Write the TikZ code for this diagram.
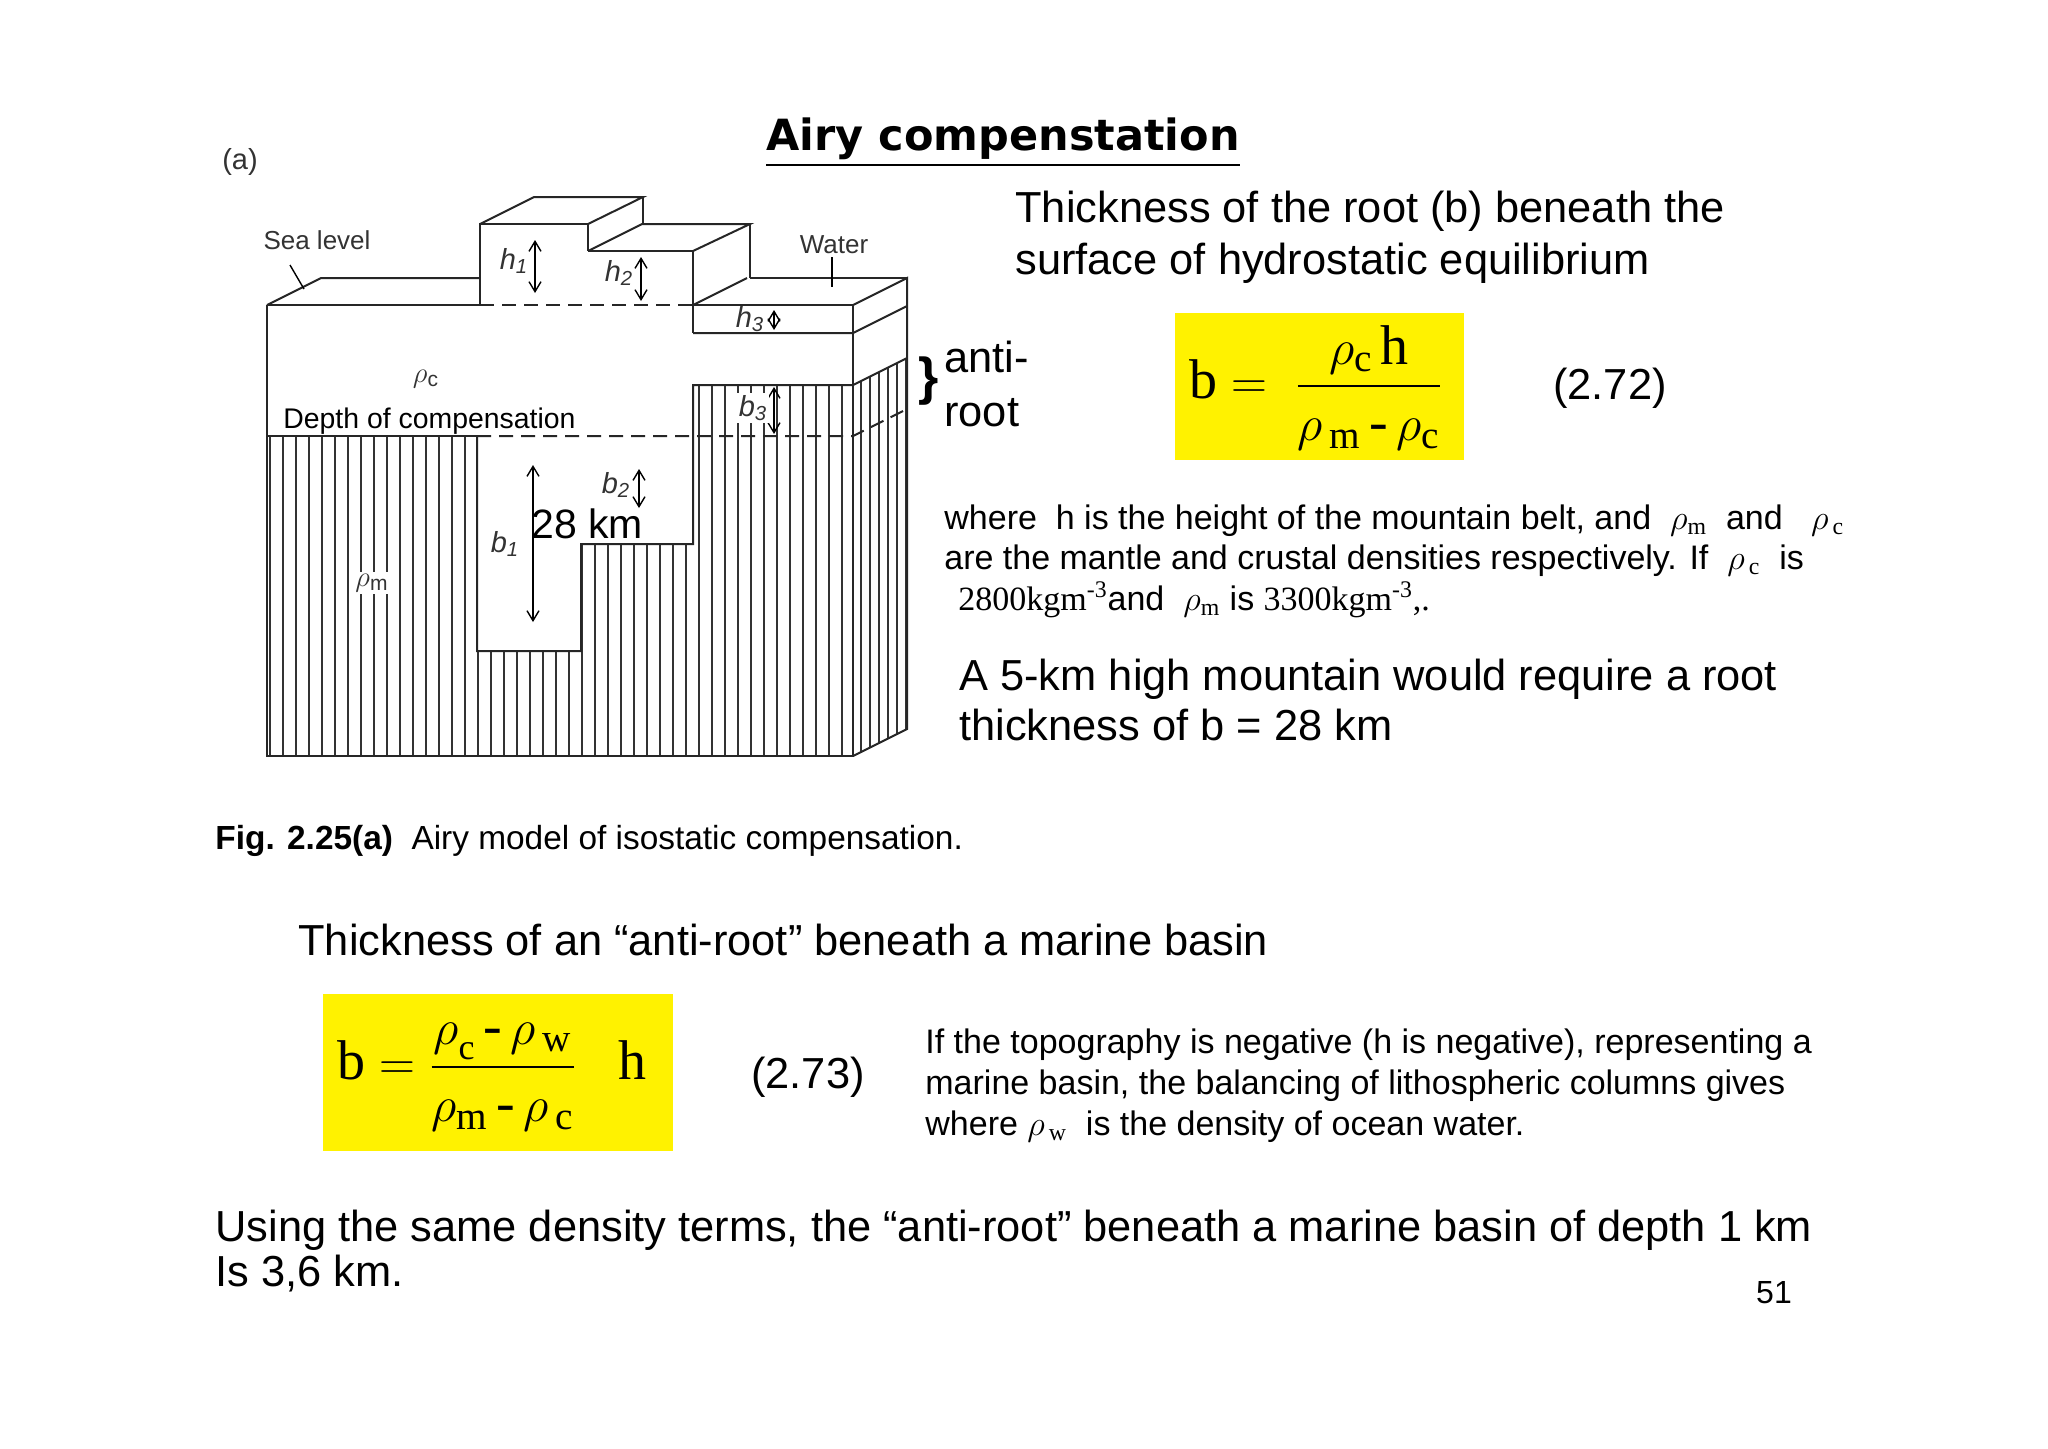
\documentclass[tikz,border=0pt]{standalone}
\usepackage{amsmath}
\usepackage{fontspec}
\setmainfont{Liberation Sans}
\newfontfamily\serf{Liberation Serif}
\newfontfamily\djb{DejaVu Sans}
\newcommand\srf[1]{\text{\serf #1}}
\usetikzlibrary{arrows.meta}
\begin{document}
\begin{tikzpicture}[x=0.5pt,y=-0.5pt,
  ln/.style={line width=1pt,black!85},
  hat/.style={line width=0.7pt,black!80},
  dsh/.style={line width=1pt,black!85,dash pattern=on 7pt off 4pt},
  dar/.style={line width=0.7pt,{Straight Barb[length=5pt,width=6pt]}-{Straight Barb[length=5pt,width=6pt]}},
  lab/.style={font=\fontsize{14.5}{15}\selectfont\itshape,text=black!80,inner sep=0pt},
  big/.style={font=\fontsize{21.7}{24}\selectfont,anchor=base west,inner sep=0pt},
  mid/.style={font=\fontsize{17}{19}\selectfont,anchor=base west,inner sep=0pt},
  ybox/.style={fill=yellow,draw=none}]
\useasboundingbox (0,0) rectangle (2048,1448);
\fill[white] (0,0) rectangle (2048,1448);
% ---------- hatching ----------
\begin{scope}
\clip (267,436)--(477,436)--(477,651)--(581,651)--(581,544)--(693,544)--(693,385)--(853,385)--(853,756)--(267,756)--cycle;
\foreach \x in {270,283,...,853} \draw[hat] (\x,380)--(\x,760);
\end{scope}
\begin{scope}
\clip (853,385)--(907,358)--(907,729)--(853,756)--cycle;
\foreach \x in {861,870,...,907} \draw[hat] (\x,340)--(\x,760);
\end{scope}
% ---------- block outline ----------
\draw[ln] (267,305)--(267,756)--(853,756)--(853,305);
\draw[ln] (853,756)--(907,729)--(907,278)--(853,305);
\draw[ln] (267,305)--(480,305);
\draw[ln] (267,305)--(321,278)--(480,278);
% block 1
\draw[ln] (480,305)--(480,224)--(588,224)--(588,251);
\draw[ln] (480,224)--(534,197)--(643,197)--(588,224);
\draw[ln] (643,197)--(643,224);
% block 2
\draw[ln] (588,251)--(693,251)--(693,333);
\draw[ln] (588,251)--(642,224)--(750,224)--(693,251);
\draw[ln] (750,224)--(750,278);
% water
\draw[ln] (693,305)--(853,305);
\draw[ln] (693,305)--(747,278);
\draw[ln] (750,278)--(907,278);
\draw[ln] (693,333)--(853,333)--(907,306);
% dashed sea level
\draw[dsh] (480,305)--(693,305);
% crust/mantle boundary
\draw[ln] (267,436)--(477,436);
\draw[ln] (477,436)--(477,651)--(581,651)--(581,544)--(693,544)--(693,385)--(853,385)--(907,358);
\draw[dsh] (477,436)--(853,436)--(907,409);
% leaders
\draw[line width=0.7pt] (290,265)--(304,289);
\draw[line width=0.7pt] (832,257)--(832,287);
% arrows
\draw[dar] (535,240)--(535,293);
\draw[dar] (641,257)--(641,301);
\draw[dar] (774,310)--(774,330);
\draw[dar] (533,465)--(533,622);
\draw[dar] (639,469)--(639,508);
\draw[dar] (774,387)--(774,434);
% labels
\node[font=\fontsize{14.5}{15}\selectfont,text=black!80] (a) at (240,162) {(a)};
\node[font=\fontsize{13}{14}\selectfont,text=black!80] (sl) at (317,240) {Sea level};
\node[font=\fontsize{13}{14}\selectfont,text=black!80] (wa) at (834,245) {Water};
\node[lab] (h1) at (514,261) {h\textsubscript{1}};
\node[lab] (h2) at (619,273) {h\textsubscript{2}};
\node[lab] (h3) at (750,319) {h\textsubscript{3}};
\node[lab] (b1) at (505,544) {b\textsubscript{1}};
\node[lab] (b2) at (616,485) {b\textsubscript{2}};
\node[lab,fill=white,inner sep=1pt] (b3) at (753,408) {b\textsubscript{3}};
\node[font=\fontsize{15}{15}\selectfont,text=black!80] (rc) at (426,379) {$\rho_{\text{c}}$};
\node[font=\fontsize{15}{15}\selectfont,text=black!80,fill=white,inner sep=1pt] (rm) at (372,583) {$\rho_{\text{m}}$};
\node[font=\fontsize{14.2}{16}\selectfont,anchor=base west,inner sep=0pt] (doc) at (283,428) {Depth of compensation};
\node[font=\fontsize{20.5}{24}\selectfont,anchor=base west,inner sep=0pt] (km) at (531,538) {28 km};
% ---------- right texts ----------
\node[font=\djb\bfseries\fontsize{21.5}{24}\selectfont,anchor=base,inner sep=0pt] (title) at (1003,150) {\underline{Airy compenstation}};
\node[big] (t1) at (1015,222) {Thickness of the root (b) beneath the};
\node[big] (t2) at (1015,274) {surface of hydrostatic equilibrium};
\node[font=\bfseries\fontsize{26}{28}\selectfont,inner sep=0pt] (br) at (929,381) {\}};
\node[big] (ar1) at (944,372) {anti-};
\node[big] (ar2) at (944,426) {root};
\fill[ybox] (1175,313) rectangle (1464,460);
\node[font=\serf\fontsize{28}{30}\selectfont,inner sep=0pt] (f1) at (1316,388) {b $=$ \ $\dfrac{\rho_{\srf{c}}\,\srf{h}}{\rule{0pt}{24pt}\rho_{\,\srf{m}}\,\text{-}\,\rho_{\srf{c}}}$};
\node[font=\fontsize{21.7}{24}\selectfont] (e1) at (1610,388) {(2.72)};
\node[mid] (w1) at (944,529) {where\ \ h is the height of the mountain belt, and \ $\rho_{\srf{m}}$\ \ and \ \ $\rho_{\,\srf{c}}$};
\node[mid] (w2) at (944,569) {are the mantle and crustal densities respectively. If \ $\rho_{\,\srf{c}}$\ \ is};
\node[mid] (w3) at (958,610) {{\serf 2800kgm$^{\text{-3}}$}and \ $\rho_{\srf{m}}$\ is {\serf 3300kgm$^{\text{-3}}$,.}};
\node[big] (m1) at (959,690) {A 5-km high mountain would require a root};
\node[big] (m2) at (959,740) {thickness of b = 28 km};
\node[mid,font=\fontsize{16.7}{19}\selectfont] (cap) at (215,849) {\textbf{Fig. 2.25(a)}\ \ Airy model of isostatic compensation.};
\node[big] (t3) at (298,955) {Thickness of an “anti-root” beneath a marine basin};
\fill[ybox] (323,994) rectangle (673,1151);
\node[font=\serf\fontsize{28}{30}\selectfont,inner sep=0pt] (f2) at (492,1077) {b $=\dfrac{\rho_{\lower4pt\hbox{\serf\fontsize{18}{18}\selectfont c}}\,\text{-}\,\rho_{\,\srf{w}}}{\rule{0pt}{24pt}\rho_{\srf{m}}\,\text{-}\,\rho_{\,\srf{c}}}$ \ \ h};
\node[font=\fontsize{21.7}{24}\selectfont] (e2) at (808,1077) {(2.73)};
\node[mid] (i1) at (925,1053) {If the topography is negative (h is negative), representing a};
\node[mid] (i2) at (925,1094) {marine basin, the balancing of lithospheric columns gives};
\node[mid] (i3) at (925,1135) {where $\rho_{\,\srf{w}}$\ \ is the density of ocean water.};
\node[big] (u1) at (215,1241) {Using the same density terms, the “anti-root” beneath a marine basin of depth 1 km};
\node[big] (u2) at (215,1286) {Is 3,6 km.};
\node[font=\fontsize{16}{18}\selectfont] (pg) at (1774,1293) {51};
\end{tikzpicture}
\end{document}
